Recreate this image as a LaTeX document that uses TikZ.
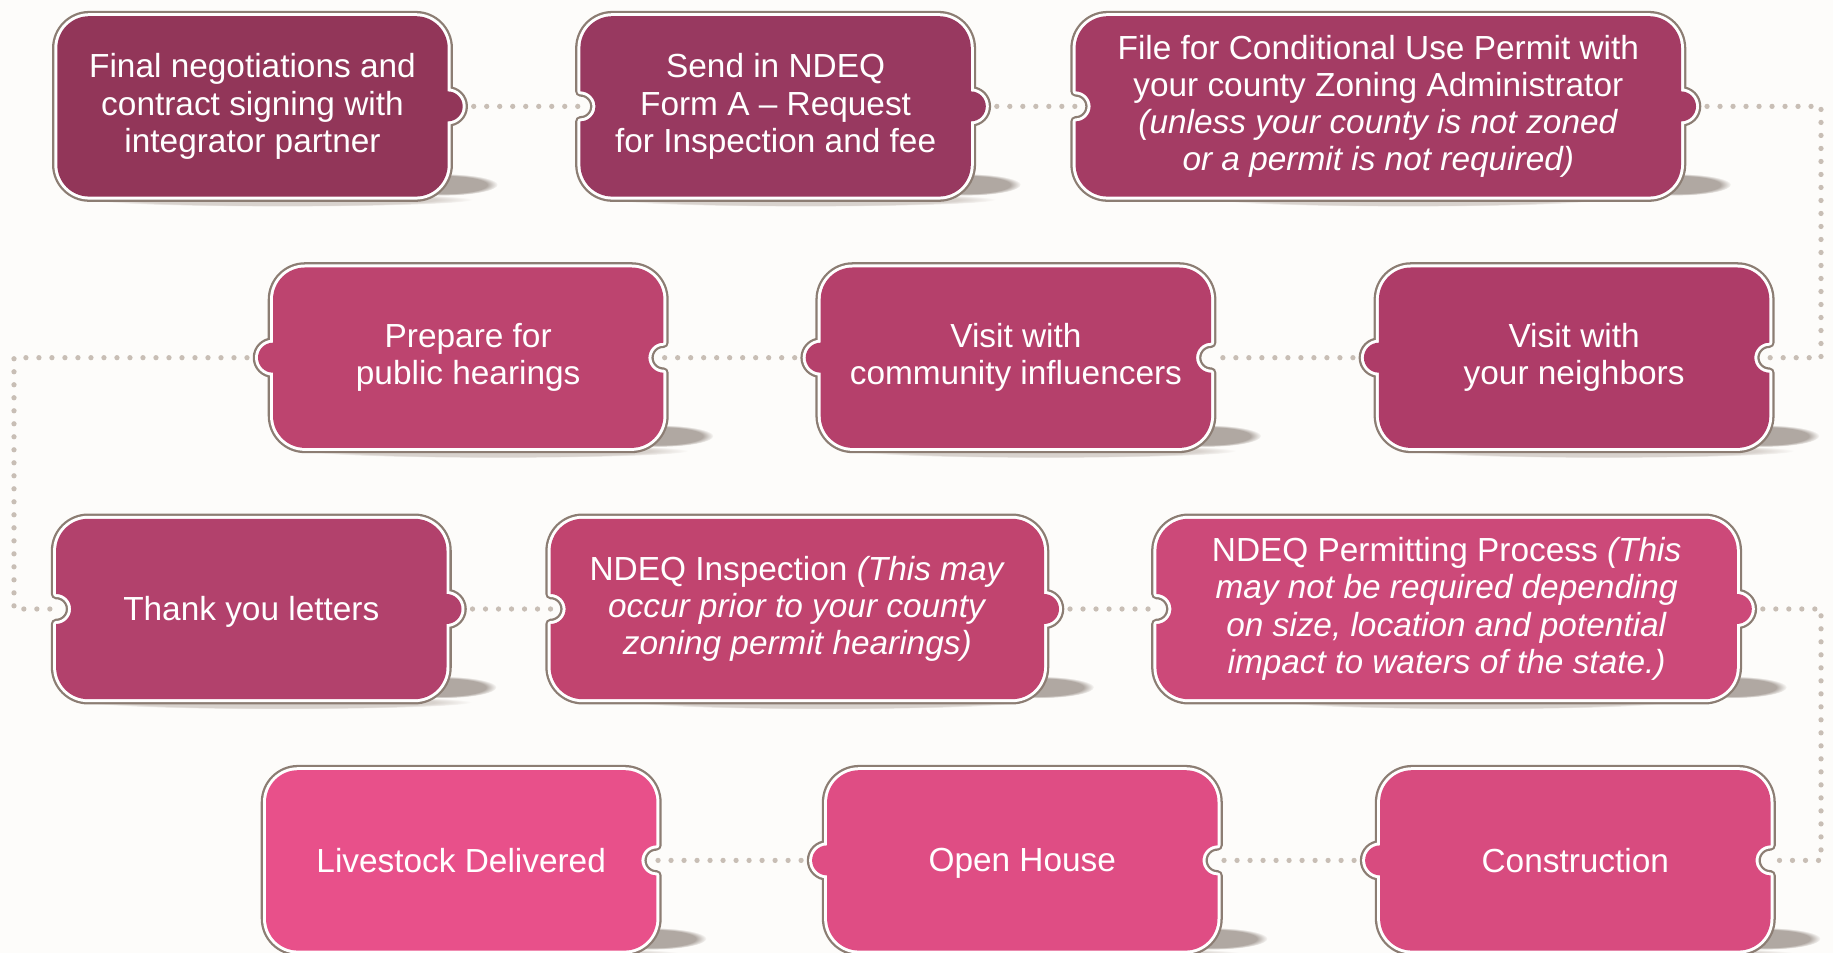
\documentclass[tikz,border=0pt]{standalone}
\usepackage{fontspec}
\setmainfont{Liberation Sans}
\usetikzlibrary{calc, backgrounds, fadings}

\definecolor{bgcream}{HTML}{FDFCFA}
\definecolor{tileedge}{HTML}{8C7D73}
\definecolor{dotgrey}{HTML}{C8BEB5}
\definecolor{shadowgrey}{HTML}{B0A8A2}
\definecolor{shadowlight}{HTML}{D8D2CD}
\definecolor{plumA}{HTML}{923659}
\definecolor{plumB}{HTML}{983960}
\definecolor{plumC}{HTML}{A43C64}
\definecolor{plumD}{HTML}{AE3C68}
\definecolor{plumE}{HTML}{B5406B}
\definecolor{plumF}{HTML}{BD446F}
\definecolor{plumG}{HTML}{B2416C}
\definecolor{plumH}{HTML}{C1446F}
\definecolor{plumI}{HTML}{CC4979}
\definecolor{plumJ}{HTML}{D84B7F}
\definecolor{plumK}{HTML}{DF4D84}
\definecolor{plumL}{HTML}{E8508A}

\newcommand{\tilestrut}{\rule[-1.7pt]{0pt}{10.2pt}}
\def\tilecorner{0.32cm}
\def\tilebump{0.15cm}
% #1 node, #2 fill, #3 left side, #4 right side (1 bump, -1 notch, 0 flat)
\newcommand{\tileshape}[4]{%
  \fill[shadowlight, path fading=circle with fuzzy edge 20 percent]
    ($(#1.south)+(0.3,-0.03)$) ellipse [x radius=1.9, y radius=0.07];
  \fill[shadowgrey, path fading=circle with fuzzy edge 20 percent]
    ($(#1.south east)+(-0.05,0.12)$) ellipse [x radius=0.55, y radius=0.11];
  \path[fill=#2, line join=round,
        preaction={draw=tileedge, line width=3pt, line join=round},
        preaction={draw=white, line width=1.7pt, line join=round}]
    ($(#1.north west)+(\tilecorner,0)$) -- ($(#1.north east)+(-\tilecorner,0)$)
    arc[start angle=90, end angle=0, radius=\tilecorner]
    -- ($(#1.east)+(0,\tilebump)$)
    arc[start angle=90, end angle={90-180*(#4)}, radius=\tilebump]
    -- ($(#1.south east)+(0,\tilecorner)$)
    arc[start angle=0, end angle=-90, radius=\tilecorner]
    -- ($(#1.south west)+(\tilecorner,0)$)
    arc[start angle=270, end angle=180, radius=\tilecorner]
    -- ($(#1.west)+(0,-\tilebump)$)
    arc[start angle=270, end angle={270-180*(#3)}, radius=\tilebump]
    -- ($(#1.north west)+(0,-\tilecorner)$)
    arc[start angle=180, end angle=90, radius=\tilecorner]
    -- cycle;
}

\begin{document}
\begin{tikzpicture}[
        tile/.style={text=white, align=center, inner sep=0pt,
            minimum width=3.89cm, minimum height=1.79cm,
            font=\fontsize{9.5}{10.6}\selectfont,
            execute at begin node=\tilestrut, execute at end node=\tilestrut},
        dots/.style={draw=dotgrey, line width=1.5pt, line cap=round,
            dash pattern=on 0pt off 3.7pt}
    ]
    \path[use as bounding box] (0,0) rectangle (18.33,9.53);

    \node[tile] (fin)   at (2.525,8.466) {Final negotiations and\\contract signing with\\integrator partner};
    \node[tile] (forma) at (7.756,8.466) {Send in NDEQ\\Form A -- Request\\for Inspection and fee};
    \node[tile, minimum width=6.04cm] (cup) at (13.783,8.466)
        {File for Conditional Use Permit with\\your county Zoning Administrator\\\textit{(unless your county is not zoned}\\\textit{or a permit is not required)}};

    \node[tile] (nbrs) at (15.741,5.953) {Visit with\\your neighbors};
    \node[tile] (infl) at (10.159,5.953) {Visit with\\community influencers};
    \node[tile] (prep) at (4.682,5.953)  {Prepare for\\public hearings};

    \node[tile] (thanks) at (2.513,3.44) {Thank you letters};
    \node[tile, minimum width=4.92cm] (insp) at (7.973,3.44)
        {NDEQ Inspection \textit{(This may}\\\textit{occur prior to your county}\\\textit{zoning permit hearings)}};
    \node[tile, minimum width=5.79cm] (permit) at (14.466,3.44)
        {NDEQ Permitting Process \textit{(This}\\\textit{may not be required depending}\\\textit{on size, location and potential}\\\textit{impact to waters of the state.)}};

    \node[tile] (build) at (15.753,0.926) {Construction};
    \node[tile] (openh) at (10.223,0.926) {Open House};
    \node[tile] (stock) at (4.612,0.926)  {Livestock Delivered};

    \coordinate (turnA) at (18.21,8.466);
    \coordinate (turnB) at (0.14,5.953);
    \coordinate (turnC) at (18.21,3.44);

    \begin{scope}[on background layer]
        \fill[bgcream] (0,0) rectangle (18.33,9.53);

        \draw[dots] (fin) -- (forma);
        \draw[dots] (forma) -- (cup);
        \draw[dots] (cup.east) -- (turnA) |- (nbrs.east);
        \draw[dots] (nbrs) -- (infl);
        \draw[dots] (infl) -- (prep);
        \draw[dots] (prep.west) -- (turnB) |- (thanks.west);
        \draw[dots] (thanks) -- (insp);
        \draw[dots] (insp) -- (permit);
        \draw[dots] (permit.east) -- (turnC) |- (build.east);
        \draw[dots] (build) -- (openh);
        \draw[dots] (openh) -- (stock);

        \tileshape{fin}{plumA}{0}{1}
        \tileshape{forma}{plumB}{-1}{1}
        \tileshape{cup}{plumC}{-1}{1}
        \tileshape{nbrs}{plumD}{1}{-1}
        \tileshape{infl}{plumE}{1}{-1}
        \tileshape{prep}{plumF}{1}{-1}
        \tileshape{thanks}{plumG}{-1}{1}
        \tileshape{insp}{plumH}{-1}{1}
        \tileshape{permit}{plumI}{-1}{1}
        \tileshape{build}{plumJ}{1}{-1}
        \tileshape{openh}{plumK}{1}{-1}
        \tileshape{stock}{plumL}{0}{-1}
    \end{scope}
\end{tikzpicture}
\end{document}
